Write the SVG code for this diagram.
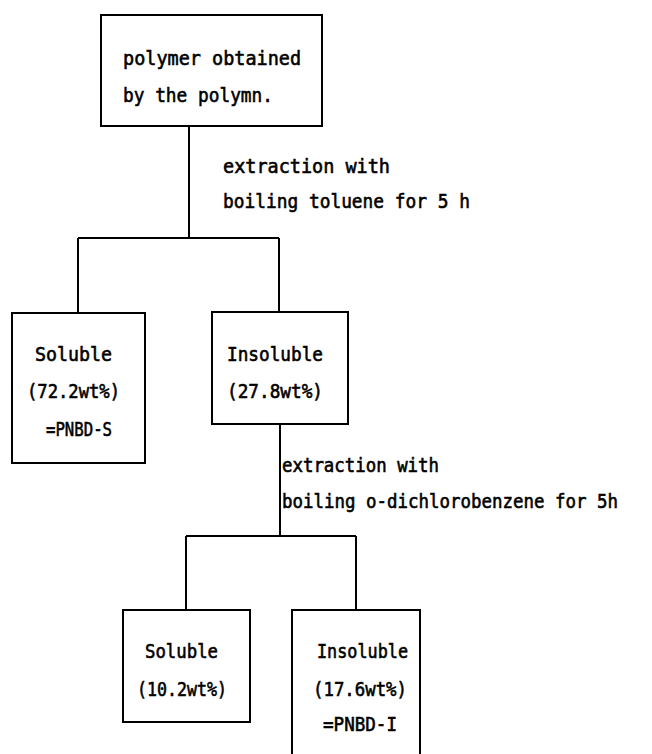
<svg xmlns="http://www.w3.org/2000/svg" width="652" height="754" viewBox="0 0 652 754">
<style>
.box{fill:#fff;stroke:#000;stroke-width:2}
.ln{fill:none;stroke:#000;stroke-width:2}
text{font-family:"DejaVu Sans Mono","Liberation Mono",monospace;font-size:20px;fill:#000;stroke:#000;stroke-width:0.6}
</style>
<rect width="652" height="754" fill="#fff"/>
<g id="connectors">
<path class="ln" d="M189 126V238M78 238H279M78 238V313M279 238V312"/>
<path class="ln" d="M280 424V536M186 536H356M186 536V610M356 536V610"/>
</g>
<g id="labels">
<text x="223" y="173" textLength="167" lengthAdjust="spacingAndGlyphs">extraction with</text>
<text x="223" y="208" textLength="247" lengthAdjust="spacingAndGlyphs">boiling toluene for 5 h</text>
<text x="282" y="472" textLength="157" lengthAdjust="spacingAndGlyphs">extraction with</text>
<text x="282" y="508" textLength="336" lengthAdjust="spacingAndGlyphs">boiling o-dichlorobenzene for 5h</text>
</g>
<g id="polymer">
<rect class="box" x="101" y="15" width="221" height="111"/>
<text x="123" y="65" textLength="178" lengthAdjust="spacingAndGlyphs">polymer obtained</text>
<text x="123" y="102" textLength="150" lengthAdjust="spacingAndGlyphs">by the polymn.</text>
</g>
<g id="soluble1">
<rect class="box" x="12" y="313" width="133" height="150"/>
<text x="35" y="361" textLength="77" lengthAdjust="spacingAndGlyphs">Soluble</text>
<text x="27" y="398" textLength="93" lengthAdjust="spacingAndGlyphs">(72.2wt%)</text>
<text x="46" y="436" textLength="66" lengthAdjust="spacingAndGlyphs">=PNBD-S</text>
</g>
<g id="insoluble1">
<rect class="box" x="212" y="312" width="136" height="112"/>
<text x="227" y="361" textLength="96" lengthAdjust="spacingAndGlyphs">Insoluble</text>
<text x="227" y="398" textLength="96" lengthAdjust="spacingAndGlyphs">(27.8wt%)</text>
</g>
<g id="soluble2">
<rect class="box" x="123" y="610" width="127" height="112"/>
<text x="145" y="658" textLength="73" lengthAdjust="spacingAndGlyphs">Soluble</text>
<text x="137" y="696" textLength="90" lengthAdjust="spacingAndGlyphs">(10.2wt%)</text>
</g>
<g id="insoluble2">
<path class="box" d="M292 756V610H420V756"/>
<text x="317" y="658" textLength="91" lengthAdjust="spacingAndGlyphs">Insoluble</text>
<text x="313" y="696" textLength="94" lengthAdjust="spacingAndGlyphs">(17.6wt%)</text>
<text x="323" y="731" textLength="74" lengthAdjust="spacingAndGlyphs">=PNBD-I</text>
</g>
</svg>
